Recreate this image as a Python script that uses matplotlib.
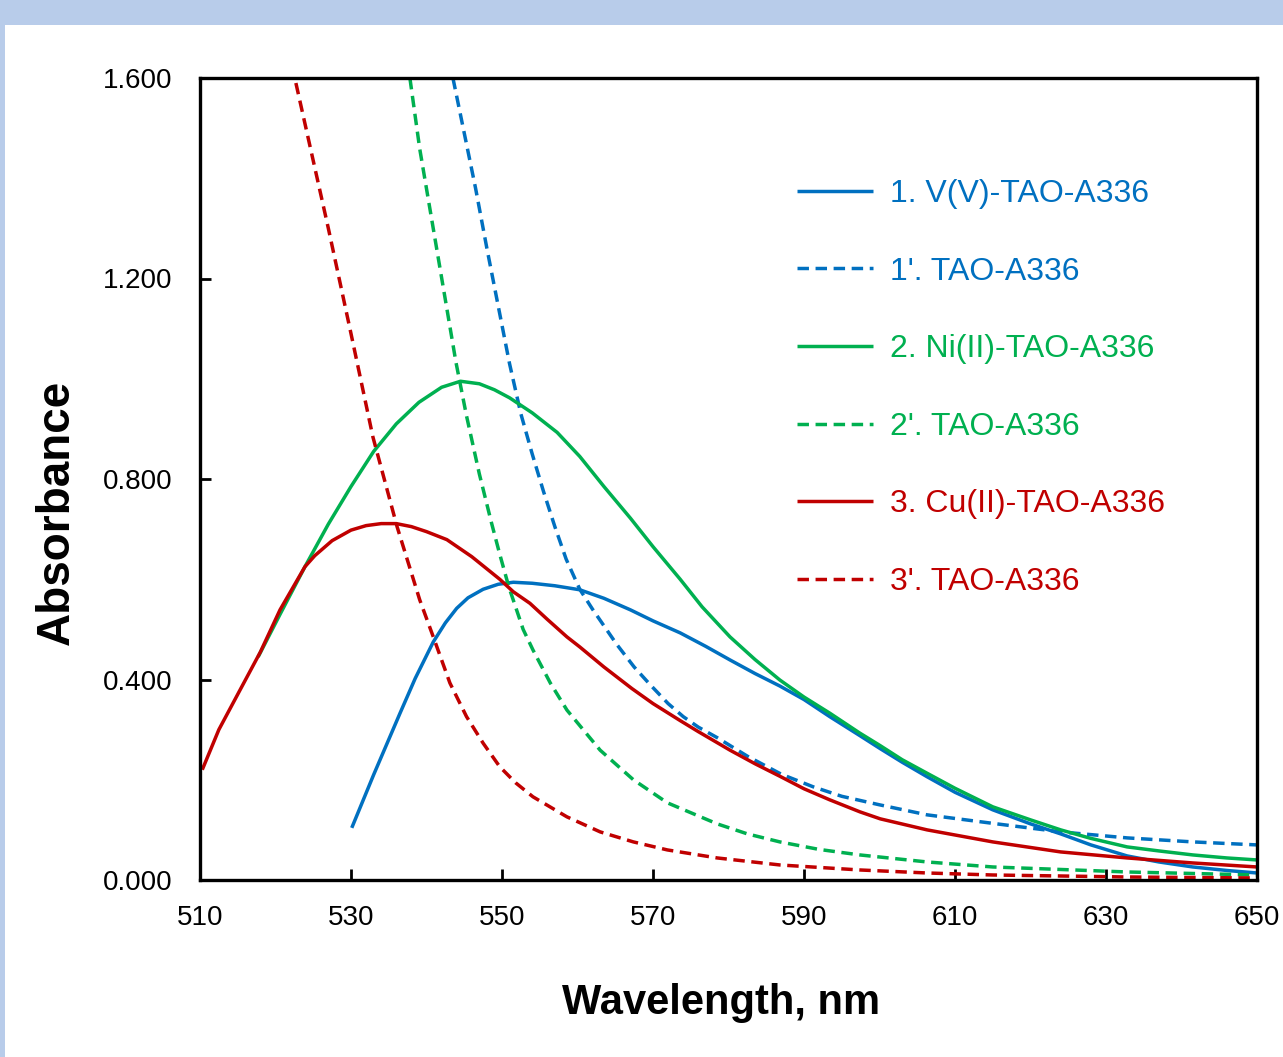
import matplotlib
matplotlib.use('Agg')
import matplotlib.pyplot as plt
from matplotlib.patches import Rectangle

plt.rcParams['font.family'] = ['Liberation Sans', 'DejaVu Sans']

# 1. V(V)-TAO-A336
wl_1 = [530.1, 533.0, 536.5, 538.5, 540.9, 542.5, 544.0, 545.5, 547.5, 549.5, 551.5, 554.0,
        557.0, 560.3, 563.5, 567.0, 570.0, 573.6, 577.0, 580.2, 583.5, 586.8, 590.0, 593.4,
        597.4, 600.1, 603.0, 606.3, 610.0, 615.0, 620.0, 624.0, 628.0, 632.8, 637.0, 641.5,
        646.0, 650.0]
ab_1 = [0.104, 0.210, 0.333, 0.402, 0.475, 0.513, 0.542, 0.563, 0.580, 0.590, 0.594, 0.592,
        0.587, 0.579, 0.562, 0.539, 0.517, 0.493, 0.466, 0.439, 0.412, 0.387, 0.360, 0.326,
        0.288, 0.262, 0.235, 0.206, 0.175, 0.140, 0.112, 0.092, 0.070, 0.048, 0.036, 0.026,
        0.019, 0.014]

# 1'. TAO-A336
wl_1d = [543.5, 545.0, 546.5, 548.0, 549.5, 551.0, 552.5, 554.0, 555.5, 557.0, 558.5, 560.3,
         562.0, 565.2, 567.5, 569.6, 572.0, 574.0, 576.0, 578.5, 582.5, 587.0, 591.2, 595.0,
         600.0, 606.3, 615.0, 624.0, 632.8, 641.5, 650.0]
ab_1d = [1.600, 1.490, 1.380, 1.260, 1.145, 1.030, 0.930, 0.850, 0.775, 0.705, 0.640, 0.580,
         0.540, 0.470, 0.425, 0.390, 0.352, 0.326, 0.305, 0.284, 0.247, 0.211, 0.186, 0.167,
         0.150, 0.130, 0.113, 0.096, 0.084, 0.076, 0.070]

# 2. Ni(II)-TAO-A336
wl_2 = [517.7, 520.6, 523.9, 527.0, 530.0, 533.0, 536.0, 539.0, 542.0, 544.5, 547.0, 549.0,
        551.0, 554.0, 557.3, 560.3, 563.5, 567.0, 570.0, 573.6, 576.5, 580.2, 583.5, 586.8,
        590.0, 593.4, 597.4, 600.1, 603.0, 606.3, 610.0, 615.0, 620.0, 624.0, 628.0, 632.8,
        637.0, 641.5, 646.0, 650.0]
ab_2 = [0.445, 0.530, 0.625, 0.710, 0.785, 0.855, 0.910, 0.953, 0.983, 0.995, 0.990, 0.978,
        0.962, 0.932, 0.893, 0.845, 0.785, 0.722, 0.665, 0.600, 0.545, 0.485, 0.440, 0.399,
        0.365, 0.333, 0.293, 0.268, 0.240, 0.213, 0.183, 0.146, 0.120, 0.100, 0.083, 0.066,
        0.058, 0.050, 0.044, 0.040]

# 2'. TAO-A336
wl_2d = [537.8, 539.1, 541.5, 543.9, 545.3, 547.0, 548.6, 549.7, 550.9, 552.8, 554.1, 556.4,
         558.6, 563.0, 567.4, 571.9, 578.5, 582.5, 586.8, 592.0, 597.4, 606.3, 615.0, 624.0,
         632.8, 641.5, 650.0]
ab_2d = [1.600, 1.459, 1.246, 1.033, 0.926, 0.810, 0.713, 0.650, 0.585, 0.500, 0.459, 0.393,
         0.339, 0.259, 0.200, 0.154, 0.112, 0.092, 0.076, 0.061, 0.050, 0.036, 0.026, 0.021,
         0.016, 0.013, 0.010]

# 3. Cu(II)-TAO-A336
wl_3 = [510.3, 512.5, 515.3, 518.0, 520.6, 523.9, 525.2, 527.5, 530.0, 532.0, 534.0, 536.0,
        538.0, 540.0, 542.7, 546.0, 549.7, 551.5, 553.7, 556.0, 558.6, 560.3, 563.5, 567.2,
        570.0, 573.6, 576.0, 578.5, 580.2, 583.5, 586.8, 590.0, 593.4, 597.4, 600.1, 606.3,
        615.0, 624.0, 632.8, 641.5, 650.0]
ab_3 = [0.220, 0.300, 0.379, 0.455, 0.539, 0.625, 0.647, 0.677, 0.698, 0.707, 0.711, 0.711,
        0.705, 0.695, 0.679, 0.645, 0.600, 0.575, 0.552, 0.520, 0.485, 0.465, 0.425, 0.382,
        0.352, 0.318, 0.296, 0.274, 0.259, 0.232, 0.207, 0.182, 0.160, 0.136, 0.122, 0.100,
        0.076, 0.056, 0.044, 0.034, 0.026]

# 3'. TAO-A336
wl_3d = [522.7, 527.0, 530.0, 532.9, 536.1, 539.1, 540.9, 543.1, 545.3, 547.5, 549.7, 551.8,
         554.1, 558.6, 563.0, 567.4, 571.9, 578.5, 586.8, 597.4, 606.3, 615.0, 624.0, 632.8,
         641.5, 650.0]
ab_3d = [1.590, 1.300, 1.090, 0.884, 0.705, 0.559, 0.485, 0.393, 0.326, 0.273, 0.226, 0.194,
         0.166, 0.126, 0.096, 0.076, 0.060, 0.044, 0.030, 0.020, 0.014, 0.010, 0.008, 0.006,
         0.005, 0.004]

labels = ['1. V(V)-TAO-A336', "1'. TAO-A336", '2. Ni(II)-TAO-A336',
          "2'. TAO-A336", '3. Cu(II)-TAO-A336', "3'. TAO-A336"]
x_ticks = [510, 530, 550, 570, 590, 610, 630, 650]
y_ticks = [0.0, 0.4, 0.8, 1.2, 1.6]

blue, green, red = '#0070C0', '#00B050', '#C00000'

fig = plt.figure(figsize=(12.83, 10.57), dpi=100)
fig.patch.set_facecolor('#B8CCEA')
fig.patches.append(Rectangle((5 / 1283, 0), 1, 1 - 25 / 1057, transform=fig.transFigure,
                             facecolor='white', edgecolor='none', zorder=-10))
ax = fig.add_axes([200 / 1283, 177 / 1057, 1057 / 1283, 802 / 1057])
ax.set_zorder(1)

lw = 2.5
dash = (3.3, 1.9)
series = [(wl_1, ab_1, blue, '-'), (wl_1d, ab_1d, blue, '--'),
          (wl_2, ab_2, green, '-'), (wl_2d, ab_2d, green, '--'),
          (wl_3, ab_3, red, '-'), (wl_3d, ab_3d, red, '--')]
for (x, y, c, ls), lab in zip(series, labels):
    line, = ax.plot(x, y, color=c, lw=lw, ls=ls, label=lab, solid_capstyle='butt',
                    solid_joinstyle='round')
    if ls == '--':
        line.set_dashes(dash)

ax.set_xlim(510, 650)
ax.set_ylim(0, 1.6)
ax.set_xticks(x_ticks)
ax.set_yticks(y_ticks)
ax.set_yticklabels(['%.3f' % v for v in y_ticks])
ax.tick_params(direction='in', length=8, width=2, labelsize=20)
ax.tick_params(axis='x', pad=18)
ax.tick_params(axis='y', pad=20)
for s in ax.spines.values():
    s.set_linewidth(2.4)

ax.set_xlabel('Wavelength, nm', fontsize=30, fontweight='bold')
ax.set_ylabel('Absorbance', fontsize=33, fontweight='bold')
ax.xaxis.set_label_coords(0.493, -0.128)
ax.yaxis.set_label_coords(-0.115, 0.459)

leg = ax.legend(loc='upper left', bbox_to_anchor=(0.5648, 0.874), frameon=False,
                fontsize=23, handlelength=2.38, handletextpad=0.53, labelspacing=1.49,
                borderpad=0, borderaxespad=0)
for t, (x, y, c, ls) in zip(leg.get_texts(), series):
    t.set_color(c)

fig.savefig('out.png', dpi=100, facecolor=fig.get_facecolor())
